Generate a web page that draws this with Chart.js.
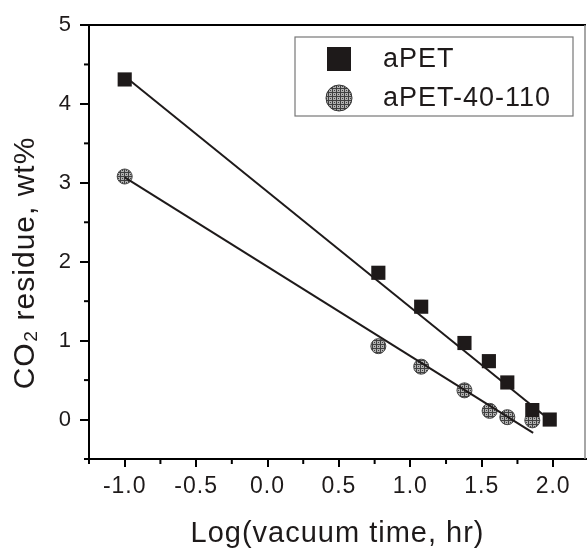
<!DOCTYPE html>
<html><head><meta charset="utf-8">
<script src="https://cdn.jsdelivr.net/npm/chart.js@4/dist/chart.umd.min.js"></script>
<style>html,body{margin:0;padding:0;background:#fff}#wrap{width:588px;height:551px}</style>
</head><body><div id="wrap"><canvas id="c" width="588" height="551"></canvas></div>
<script>
const seriesNames = ['aPET', 'aPET-40-110'];
const aPET_x = [-1.0, 0.776, 1.076, 1.379, 1.55, 1.679, 1.854, 1.976];
const aPET_y = [4.31, 1.86, 1.43, 0.97, 0.74, 0.47, 0.12, 0.00];
const aPET40_x = [-1.0, 0.776, 1.076, 1.379, 1.555, 1.679, 1.854];
const aPET40_y = [3.08, 0.93, 0.67, 0.37, 0.11, 0.03, -0.01];
const fitA_x = [-1.0, 2.0];
const fitA_y = [4.35, -0.04];
const fitB_x = [-1.0, 1.86];
const fitB_y = [3.07, -0.17];
const xTicks = [-1.0, -0.5, 0.0, 0.5, 1.0, 1.5, 2.0];
const yTicks = [0, 1, 2, 3, 4, 5];
const xMinor = [-1.25, -0.75, -0.25, 0.25, 0.75, 1.25, 1.75, 2.25];
const yMinor = [-0.5, 0.5, 1.5, 2.5, 3.5, 4.5];
const xTitle = 'Log(vacuum time, hr)';
const yTitle = 'CO₂ residue, wt%';

const FONT = "'Liberation Sans', Arial, sans-serif";
const pts = (xs, ys) => xs.map((x, i) => ({x: x, y: ys[i]}));

// hatched grey pattern for circles
const pc = document.createElement('canvas');
pc.width = 4; pc.height = 4;
const pctx = pc.getContext('2d');
pctx.fillStyle = '#b0b0b0'; pctx.fillRect(0, 0, 4, 4);
pctx.fillStyle = '#404040';
pctx.fillRect(0, 0, 4, 1); pctx.fillRect(0, 0, 1, 4); pctx.fillRect(2, 2, 1, 1);
const ctx0 = document.getElementById('c').getContext('2d');
const pattern = ctx0.createPattern(pc, 'repeat');

const spacing = {
  id: 'spacing',
  beforeDraw(chart) { chart.ctx.letterSpacing = '1px'; }
};

const frameAndMinor = {
  id: 'frameAndMinor',
  afterDraw(chart) {
    const {ctx, chartArea: a, scales: {x, y}} = chart;
    ctx.save();
    ctx.strokeStyle = '#000'; ctx.lineWidth = 2;
    ctx.beginPath(); ctx.moveTo(a.left, a.top); ctx.lineTo(a.right, a.top); ctx.stroke();
    ctx.strokeStyle = '#888'; ctx.lineWidth = 1.5;
    ctx.beginPath(); ctx.moveTo(a.right - 1, a.top); ctx.lineTo(a.right - 1, a.bottom); ctx.stroke();
    ctx.strokeStyle = '#000'; ctx.lineWidth = 2;
    xMinor.forEach(v => { if (v < x.min || v > x.max) return; const px = x.getPixelForValue(v);
      ctx.beginPath(); ctx.moveTo(px, a.bottom); ctx.lineTo(px, a.bottom + 5); ctx.stroke(); });
    yMinor.forEach(v => { const py = y.getPixelForValue(v);
      ctx.beginPath(); ctx.moveTo(a.left, py); ctx.lineTo(a.left - 5, py); ctx.stroke(); });
    // y title
    ctx.save();
    ctx.translate(26, 263); ctx.rotate(-Math.PI / 2);
    ctx.font = '30px ' + FONT; ctx.fillStyle = '#1e1a1a';
    ctx.textAlign = 'center'; ctx.textBaseline = 'middle'; ctx.letterSpacing = '1px';
    ctx.fillText(yTitle, 0, 0);
    ctx.restore();
    // legend
    const lx = 295, ly = 37, lw = 278, lh = 79;
    ctx.strokeStyle = '#777'; ctx.lineWidth = 1.2;
    ctx.strokeRect(lx, ly, lw, lh);
    ctx.fillStyle = '#1e1a1a';
    ctx.fillRect(327, 47, 24, 24);
    ctx.beginPath(); ctx.arc(339, 98, 13, 0, Math.PI * 2);
    ctx.fillStyle = pattern; ctx.fill();
    ctx.strokeStyle = '#333'; ctx.lineWidth = 1; ctx.stroke();
    ctx.fillStyle = '#1e1a1a'; ctx.font = '27px ' + FONT; ctx.textBaseline = 'middle'; ctx.textAlign = 'left';
    ctx.letterSpacing = '1px';
    ctx.fillText(seriesNames[0], 383, 60);
    ctx.fillText(seriesNames[1], 383, 99);
    ctx.restore();
  }
};

new Chart(document.getElementById('c'), {
  type: 'scatter',
  data: {
    datasets: [
      {label: 'fitA', data: pts(fitA_x, fitA_y), showLine: true, borderColor: '#1e1a1a', borderWidth: 2, pointRadius: 0},
      {label: 'fitB', data: pts(fitB_x, fitB_y), showLine: true, borderColor: '#1e1a1a', borderWidth: 2, pointRadius: 0},
      {label: seriesNames[0], data: pts(aPET_x, aPET_y), pointStyle: 'rect', pointRadius: 10, backgroundColor: '#1e1a1a', borderColor: '#1e1a1a', borderWidth: 0},
      {label: seriesNames[1], data: pts(aPET40_x, aPET40_y), pointStyle: 'circle', pointRadius: 7.5, backgroundColor: pattern, borderColor: '#444', borderWidth: 1}
    ]
  },
  options: {
    responsive: false, animation: false,
    layout: {autoPadding: false, padding: {top: 25, right: 2, left: 0, bottom: 0}},
    plugins: {legend: {display: false}, tooltip: {enabled: false}},
    scales: {
      x: {
        type: 'linear', min: -1.25, max: 2.23,
        afterBuildTicks: s => { s.ticks = xTicks.map(v => ({value: v})); },
        afterFit: s => { s.height = 92; s.paddingLeft = 0; s.paddingRight = 0; },
        ticks: {font: {family: FONT, size: 23}, color: '#1e1a1a', padding: 6, maxRotation: 0, autoSkip: false,
          callback: v => Number(v).toFixed(1)},
        grid: {drawOnChartArea: false, drawTicks: true, tickLength: 8, tickColor: '#000', lineWidth: 2},
        border: {color: '#000', width: 2},
        title: {display: true, text: xTitle, font: {family: FONT, size: 29}, color: '#1e1a1a', padding: {top: 0, bottom: 0}}
      },
      y: {
        type: 'linear', min: -0.5, max: 5,
        afterBuildTicks: s => { s.ticks = yTicks.map(v => ({value: v})); },
        afterFit: s => { s.width = 89; s.paddingTop = 0; s.paddingBottom = 0; },
        ticks: {font: {family: FONT, size: 22}, color: '#1e1a1a', padding: 8, callback: v => String(v)},
        grid: {drawOnChartArea: false, drawTicks: true, tickLength: 9, tickColor: '#000', lineWidth: 2},
        border: {color: '#000', width: 2},
        title: {display: false}
      }
    }
  },
  plugins: [spacing, frameAndMinor]
});
</script></body></html>
